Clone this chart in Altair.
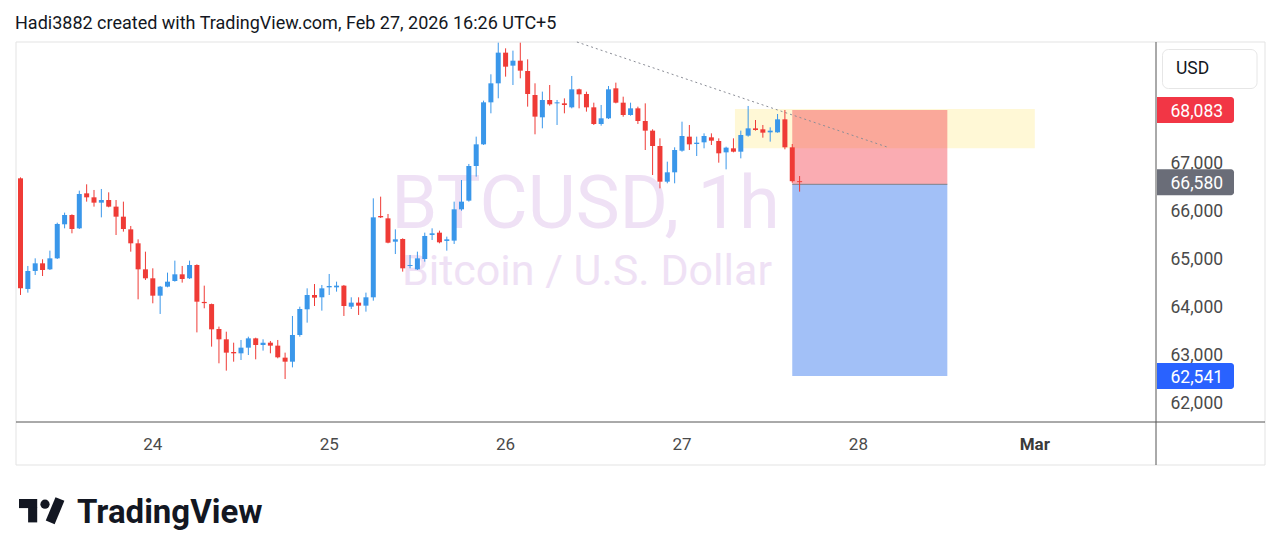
import altair as alt
import pandas as pd

# ---------------- data (BTCUSD 1h, Feb 23 06:00 -> Feb 27 16:00, UTC+5) -------------
opens = [66660, 64355, 64730, 64889, 64764, 64993, 65702, 65896, 65618, 66347,
         66264, 66153, 66208, 66070, 65861, 65597, 65306, 64764, 64577, 64215,
         64403, 64521, 64660, 64577, 64854, 64085, 64040, 63521, 63306, 63042,
         63014, 63132, 63326, 63188, 63236, 63174, 62924, 62840, 63396, 63931,
         64229, 64181, 64389, 64389, 64424, 63986, 64070, 64007, 64181, 65875,
         65826, 65340, 65396, 64834, 64764, 64979, 65480, 65528, 65355, 65362,
         66014, 66195, 66917, 67368, 68243, 68639, 69278, 69007, 69111, 68896,
         68396, 67931, 68292, 68222, 68222, 68139, 68514, 68417, 68139, 67792,
         67910, 68535, 68236, 67979, 68118, 67854, 67653, 67333, 66590, 66785,
         67236, 67528, 67375, 67410, 67514, 67438, 67201, 67285, 67215, 67549,
         67701, 67681, 67618, 67618, 67889, 67306, 66600]
highs = [66680, 64834, 64993, 64973, 65153, 65736, 65945, 65910, 66403, 66535,
         66417, 66438, 66368, 66208, 66174, 65667, 65389, 65132, 64785, 64417,
         64695, 64945, 64834, 64945, 64868, 64424, 64050, 63570, 63465, 63236,
         63292, 63361, 63340, 63306, 63271, 63292, 63028, 63792, 63986, 64368,
         64458, 64438, 64667, 64507, 64438, 64181, 64181, 64278, 66243, 66278,
         65917, 65597, 65410, 65063, 65132, 65528, 65618, 65570, 65445, 66174,
         66625, 66959, 67528, 68278, 68827, 69486, 69368, 69320, 69486, 69139,
         68639, 68466, 68604, 68292, 68326, 68792, 68528, 68465, 68236, 68188,
         68583, 68653, 68361, 68236, 68153, 68222, 67681, 67493, 67007, 67306,
         67840, 67771, 67528, 67597, 67597, 67493, 67319, 67493, 67653, 68167,
         67875, 67771, 67722, 68000, 68083, 67375, 66708]
lows = [64230, 64278, 64646, 64625, 64750, 64979, 65618, 65514, 65604, 66174,
        66070, 65847, 66056, 65479, 65549, 65132, 64139, 64542, 64056, 63834,
        64389, 64507, 64487, 64563, 63450, 63952, 63153, 62806, 62653, 62840,
        62875, 62979, 62889, 63070, 63014, 62910, 62479, 62722, 63361, 63653,
        64000, 63903, 64229, 64299, 63792, 63938, 63813, 63882, 64111, 65833,
        65306, 65083, 64716, 64785, 64750, 64924, 65375, 65306, 65153, 65292,
        65986, 66174, 66695, 67355, 68014, 68327, 68778, 68604, 68743, 68153,
        67577, 67702, 68174, 67771, 68014, 68118, 68118, 68049, 67771, 67757,
        67896, 68222, 67944, 67965, 67792, 67250, 66729, 66451, 66556, 66556,
        67215, 67250, 67125, 67285, 67354, 66986, 66847, 67201, 67076, 67528,
        67653, 67507, 67424, 67611, 67264, 66569, 66382]
closes = [64370, 64730, 64889, 64750, 64993, 65709, 65896, 65604, 66333, 66264,
          66153, 66208, 66070, 65861, 65604, 65306, 64764, 64577, 64215, 64403,
          64507, 64660, 64563, 64854, 64090, 64060, 63514, 63306, 63028, 63014,
          63132, 63326, 63188, 63236, 63174, 62931, 62840, 63396, 63938, 64229,
          64174, 64368, 64417, 64424, 64000, 64070, 64007, 64181, 65847, 65847,
          65319, 65389, 64785, 64854, 64993, 65459, 65514, 65327, 65389, 66014,
          66174, 66917, 67368, 68243, 68639, 69278, 68986, 69111, 68903, 68417,
          67945, 68292, 68202, 68243, 68188, 68514, 68410, 68139, 67792, 67910,
          68514, 68236, 67979, 68118, 67854, 67653, 67333, 66590, 66785, 67250,
          67542, 67368, 67403, 67542, 67444, 67181, 67299, 67215, 67562, 67701,
          67667, 67611, 67653, 67889, 67306, 66600, 66580]
hour_index = list(range(len(opens)))

price_ticks = [62000, 63000, 64000, 65000, 66000, 67000]
day_labels = ["24", "25", "26", "27", "28"]
day_hours = [18, 42, 66, 90, 114]
month_labels = ["Mar"]
month_hours = [138]

zone_hours = [97.2, 138.0]          # yellow range box
zone_prices = [68104, 67285]
pos_hours = [105.0, 126.1]          # short position tool
pos_stop, pos_entry, pos_target = 68083, 66535, 62541
trend_hours = [75.7, 117.9]
trend_prices = [69500, 67312]
marker_prices = [68083, 66580, 62541]
marker_colors = ["#f23645", "#6a6d78", "#2962ff"]

UP = "#3a97ea"
DOWN = "#ef3b36"
FONT = "Roboto"

# ---------------- scales -------------
X = alt.Scale(domain=[0, 100], range=[12.5, 747.5], padding=0, nice=False, zero=False)
Y = alt.Scale(domain=[62000, 67000], range=[394, 154], padding=0, zero=False, nice=False)

df = pd.DataFrame({"i": hour_index, "open": opens, "high": highs,
                   "low": lows, "close": closes})
color_cond = alt.condition("datum.close >= datum.open", alt.value(UP), alt.value(DOWN))

one = pd.DataFrame({"a": [0]})
blank = alt.Chart(one)

# panel border
panel = blank.mark_rect(fill="white", stroke="#e3e3e3", strokeWidth=1).encode(
    x=alt.value(8), x2=alt.value(1257), y=alt.value(34), y2=alt.value(457))

zone_df = pd.DataFrame({"x": [zone_hours[0]], "x2": [zone_hours[1]],
                        "y": [zone_prices[0]], "y2": [zone_prices[1]]})
zone = alt.Chart(zone_df).mark_rect(color="#fff8d6").encode(
    x=alt.X("x:Q", scale=X, axis=None), x2="x2:Q",
    y=alt.Y("y:Q", scale=Y, axis=None), y2="y2:Q")

stop_df = pd.DataFrame({"x": [pos_hours[0]], "x2": [pos_hours[1]],
                        "y": [pos_stop], "y2": [pos_entry]})
stop_zone = alt.Chart(stop_df).mark_rect(color="#f23645", opacity=0.41).encode(
    x=alt.X("x:Q", scale=X, axis=None), x2="x2:Q",
    y=alt.Y("y:Q", scale=Y, axis=None), y2="y2:Q")

tgt_df = pd.DataFrame({"x": [pos_hours[0]], "x2": [pos_hours[1]],
                       "y": [pos_entry], "y2": [pos_target]})
tgt_zone = alt.Chart(tgt_df).mark_rect(color="#a2c0f7").encode(
    x=alt.X("x:Q", scale=X, axis=None), x2="x2:Q",
    y=alt.Y("y:Q", scale=Y, axis=None), y2="y2:Q")

entry_line = alt.Chart(pd.DataFrame({"x": [pos_hours[0]], "x2": [pos_hours[1]],
                                     "y": [pos_entry]})).mark_rule(
    color="#7c7f8a", strokeWidth=1).encode(
    x=alt.X("x:Q", scale=X, axis=None), x2="x2:Q",
    y=alt.Y("y:Q", scale=Y, axis=None))

trend = alt.Chart(pd.DataFrame({"x": trend_hours, "y": trend_prices})).mark_line(
    color="#8a8d96", strokeWidth=1, strokeDash=[2, 3]).encode(
    x=alt.X("x:Q", scale=X, axis=None), y=alt.Y("y:Q", scale=Y, axis=None))

# watermark
wm1 = blank.mark_text(text="BTCUSD, 1h", font=FONT, fontSize=74, color="#efe1f5",
                      align="center", baseline="alphabetic").encode(
    x=alt.value(577.5), y=alt.value(220))
wm2 = blank.mark_text(text="Bitcoin / U.S. Dollar", font=FONT, fontSize=43,
                      color="#efe1f5", align="center", baseline="alphabetic").encode(
    x=alt.value(579), y=alt.value(277))

# candles
wicks = alt.Chart(df).mark_rule(strokeWidth=1).encode(
    x=alt.X("i:Q", scale=X, axis=None),
    y=alt.Y("low:Q", scale=Y, axis=None), y2="high:Q", color=color_cond)
bodies = alt.Chart(df).mark_bar(size=5).encode(
    x=alt.X("i:Q", scale=X, axis=None),
    y=alt.Y("open:Q", scale=Y, axis=None), y2="close:Q", color=color_cond)

# axis lines
vsep = blank.mark_rule(color="#555555", strokeWidth=1).encode(
    x=alt.value(1148), y=alt.value(34), y2=alt.value(457))
hsep = blank.mark_rule(color="#555555", strokeWidth=1).encode(
    x=alt.value(8), x2=alt.value(1257), y=alt.value(414))

# price labels
ticks = alt.Chart(pd.DataFrame({"p": price_ticks})).mark_text(
    font=FONT, fontSize=17.5, color="#4a4a4a", align="left", baseline="middle",
    dy=1.5).encode(
    x=alt.value(1162.5), y=alt.Y("p:Q", scale=Y, axis=None),
    text=alt.Text("p:Q", format=","))

mk_df = pd.DataFrame({"p": marker_prices, "c": marker_colors})
mk_df["top"] = mk_df["p"] + 271
mk_df["bot"] = mk_df["p"] - 271
mk_box = alt.Chart(mk_df).mark_rect(cornerRadiusTopRight=3, cornerRadiusBottomRight=3).encode(
    x=alt.value(1149), x2=alt.value(1226),
    y=alt.Y("top:Q", scale=Y, axis=None), y2="bot:Q",
    color=alt.Color("c:N", scale=None))
mk_txt = alt.Chart(mk_df).mark_text(font=FONT, fontSize=17.5, color="white",
                                    align="left", baseline="middle", dy=1.5).encode(
    x=alt.value(1162.5), y=alt.Y("p:Q", scale=Y, axis=None),
    text=alt.Text("p:Q", format=","))

usd_box = blank.mark_rect(fill="white", stroke="#e6e6e6", cornerRadius=6).encode(
    x=alt.value(1154.5), x2=alt.value(1249), y=alt.value(41.5), y2=alt.value(80.5))
usd_txt = blank.mark_text(text="USD", font=FONT, fontSize=17.5, color="#131722",
                          align="left", baseline="middle").encode(
    x=alt.value(1168), y=alt.value(61))

# date labels
days = alt.Chart(pd.DataFrame({"h": day_hours, "t": day_labels})).mark_text(
    font=FONT, fontSize=17, color="#4a4a4a", align="center", baseline="middle").encode(
    x=alt.X("h:Q", scale=X, axis=None), y=alt.value(437), text="t:N")
months = alt.Chart(pd.DataFrame({"h": month_hours, "t": month_labels})).mark_text(
    font=FONT, fontSize=17, fontWeight="bold", color="#3a3a3a", align="center",
    baseline="middle").encode(
    x=alt.X("h:Q", scale=X, axis=None), y=alt.value(437), text="t:N")

# header
header = blank.mark_text(
    text="Hadi3882 created with TradingView.com, Feb 27, 2026 16:26 UTC+5",
    font=FONT, fontSize=18, color="#131722", align="left", baseline="alphabetic").encode(
    x=alt.value(7), y=alt.value(21.3))

# TradingView logo
logo_t1 = blank.mark_rect(color="#131722").encode(
    x=alt.value(11), x2=alt.value(29.2), y=alt.value(491), y2=alt.value(500.1))
logo_t2 = blank.mark_rect(color="#131722").encode(
    x=alt.value(20.1), x2=alt.value(29.2), y=alt.value(499.5), y2=alt.value(514.4))
logo_dot = blank.mark_point(filled=True, color="#131722", size=85, opacity=1).encode(
    x=alt.value(37), y=alt.value(496.2))
logo_slash = blank.mark_rule(color="#131722", strokeWidth=9.6, strokeCap="butt").encode(
    x=alt.value(42.2), y=alt.value(514.4), x2=alt.value(51.95), y2=alt.value(491))
logo_txt = blank.mark_text(text="TradingView", font=FONT, fontSize=33, fontWeight="bold",
                           color="#131722", align="left", baseline="alphabetic").encode(
    x=alt.value(69), y=alt.value(514.7))

chart = alt.layer(
    panel, zone, stop_zone, tgt_zone, entry_line, wm1, wm2, trend,
    wicks, bodies, vsep, hsep, ticks, mk_box, mk_txt, usd_box, usd_txt,
    days, months, header, logo_t1, logo_t2, logo_dot, logo_slash, logo_txt
).properties(
    width=1264, height=543, padding=0,
    autosize=alt.AutoSizeParams(type="none"),
    background="white"
).configure_view(stroke=None)

chart.save("out.html", embed_options={"renderer": "svg", "actions": False})
